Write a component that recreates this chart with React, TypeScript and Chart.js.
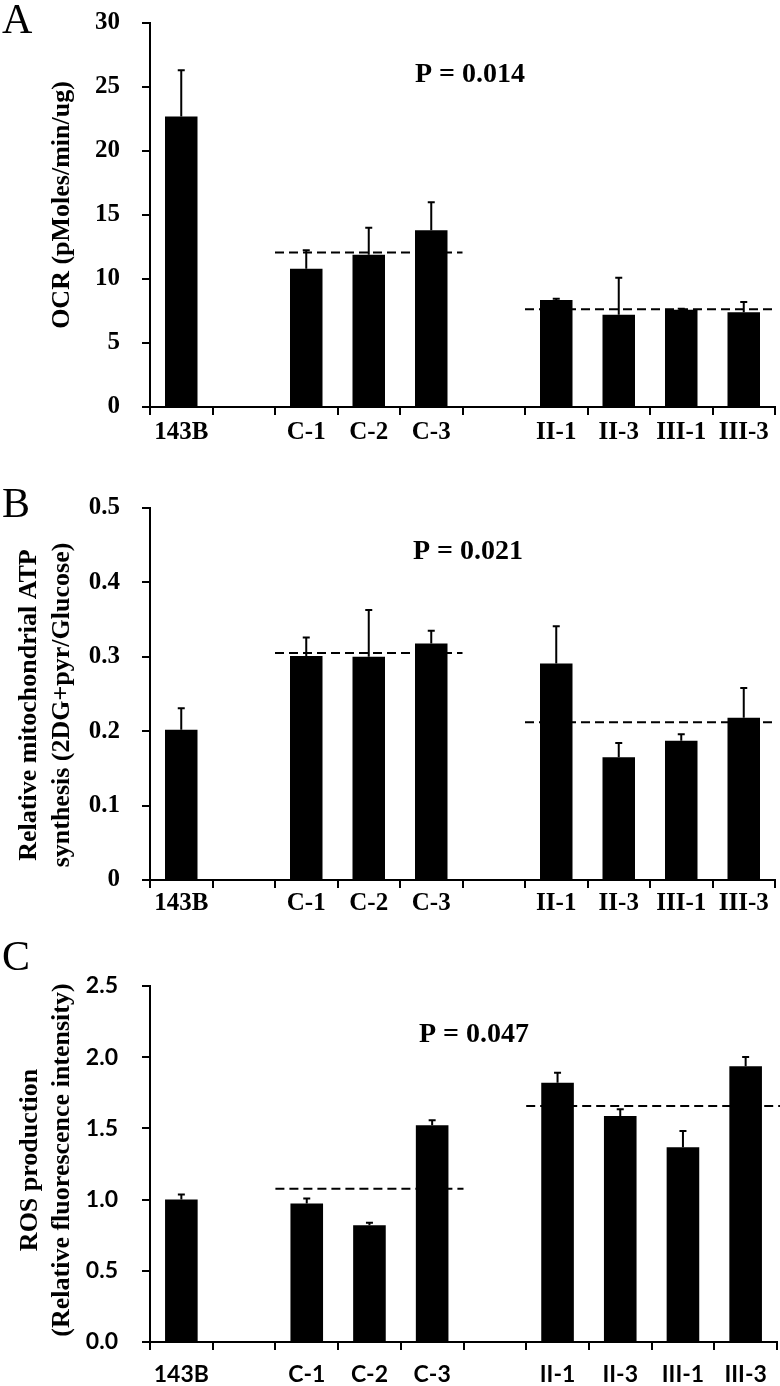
import React, { useEffect, useRef } from "react";
import { Chart, registerables } from "chart.js";
Chart.register(...registerables);

// ---------- data ----------
const categories = ["143B", "", "C-1", "C-2", "C-3", "", "II-1", "II-3", "III-1", "III-3"];

const ocrValues = [22.7, null, 10.8, 11.9, 13.8, null, 8.35, 7.2, 7.6, 7.4];
const ocrErrors = [3.6, null, 1.45, 2.1, 2.2, null, 0.1, 2.9, 0.08, 0.8];
const ocrGroupMeans = [12.08, 7.63];
const ocrTickLabels = ["0", "5", "10", "15", "20", "25", "30"];

const atpValues = [0.202, null, 0.301, 0.3, 0.318, null, 0.291, 0.165, 0.187, 0.218];
const atpErrors = [0.029, null, 0.025, 0.063, 0.017, null, 0.05, 0.019, 0.009, 0.04];
const atpGroupMeans = [0.305, 0.212];
const atpTickLabels = ["0", "0.1", "0.2", "0.3", "0.4", "0.5"];

const rosValues = [1.0, null, 0.972, 0.82, 1.522, null, 1.82, 1.587, 1.367, 1.936];
const rosErrors = [0.035, null, 0.035, 0.018, 0.035, null, 0.07, 0.048, 0.115, 0.065];
const rosGroupMeans = [1.077, 1.657];
const rosTickLabels = ["0.0", "0.5", "1.0", "1.5", "2.0", "2.5"];

// first / last category index of each averaged group
const groupRanges = [
  [2, 4],
  [6, 9],
];

const SERIF = "'Liberation Serif', 'Times New Roman', serif";
const SANS = "Lato, 'Open Sans', sans-serif";

type PanelSpec = {
  letter: string;
  top: number;
  height: number;
  letterBaseline: number;
  areaTop: number;
  xAxisHeight: number;
  rightPad: number;
  values: (number | null)[];
  errors: (number | null)[];
  means: number[];
  yMax: number;
  yStep: number;
  tickLabels: string[];
  tickFamily: string;
  tickSize: number;
  yPad: number;
  xPad: number;
  title: string[];
  titleX: number[];
  titleY: number;
  pText: string;
  pX: number;
  pY: number;
  meanRightExtra: number;
};

const panels: PanelSpec[] = [
  {
    letter: "A",
    top: -16,
    height: 476,
    letterBaseline: 49,
    areaTop: 39,
    xAxisHeight: 53,
    rightPad: 5,
    values: ocrValues,
    errors: ocrErrors,
    means: ocrGroupMeans,
    yMax: 30,
    yStep: 5,
    tickLabels: ocrTickLabels,
    tickFamily: SERIF,
    tickSize: 25,
    yPad: 22,
    xPad: 3,
    title: ["OCR (pMoles/min/ug)"],
    titleX: [62],
    titleY: 221,
    pText: "P = 0.014",
    pX: 470,
    pY: 91,
    meanRightExtra: 0,
  },
  {
    letter: "B",
    top: 460,
    height: 460,
    letterBaseline: 57,
    areaTop: 48,
    xAxisHeight: 40,
    rightPad: 5,
    values: atpValues,
    errors: atpErrors,
    means: atpGroupMeans,
    yMax: 0.5,
    yStep: 0.1,
    tickLabels: atpTickLabels,
    tickFamily: SERIF,
    tickSize: 25,
    yPad: 22,
    xPad: 1,
    title: ["Relative mitochondrial ATP", "synthesis (2DG+pyr/Glucose)"],
    titleX: [29, 62],
    titleY: 245,
    pText: "P = 0.021",
    pX: 468,
    pY: 92,
    meanRightExtra: 0,
  },
  {
    letter: "C",
    top: 920,
    height: 466,
    letterBaseline: 50,
    areaTop: 66,
    xAxisHeight: 44,
    rightPad: 3,
    values: rosValues,
    errors: rosErrors,
    means: rosGroupMeans,
    yMax: 2.5,
    yStep: 0.5,
    tickLabels: rosTickLabels,
    tickFamily: SANS,
    tickSize: 23,
    yPad: 24,
    xPad: 11,
    title: ["ROS production", "(Relative fluorescence intensity)"],
    titleX: [30, 62],
    titleY: 240,
    pText: "P = 0.047",
    pX: 474,
    pY: 115,
    meanRightExtra: 3,
  },
];

function makeOverlay(p: PanelSpec) {
  return {
    id: "overlay" + p.letter,
    afterDatasetsDraw(chart: any) {
      const ctx = chart.ctx as CanvasRenderingContext2D;
      const xs = chart.scales.x;
      const ys = chart.scales.y;
      const meta = chart.getDatasetMeta(0);
      ctx.save();
      // error bars (upper only)
      ctx.strokeStyle = "#000";
      ctx.lineWidth = 2;
      p.values.forEach((v, i) => {
        const e = p.errors[i];
        if (v == null || e == null) return;
        const x = meta.data[i].x;
        const y0 = ys.getPixelForValue(v);
        const y1 = ys.getPixelForValue(v + e);
        ctx.beginPath();
        ctx.moveTo(x, y0);
        ctx.lineTo(x, y1);
        ctx.moveTo(x - 3.5, y1);
        ctx.lineTo(x + 3.5, y1);
        ctx.stroke();
      });
      // group mean dashed lines
      const half = (xs.getPixelForValue(1) - xs.getPixelForValue(0)) / 2;
      ctx.setLineDash([9, 5]);
      ctx.lineWidth = 2;
      groupRanges.forEach((r, gi) => {
        const xa = xs.getPixelForValue(r[0]) - half;
        const xb = xs.getPixelForValue(r[1]) + half + (gi === 1 ? p.meanRightExtra : 0);
        const y = ys.getPixelForValue(p.means[gi]);
        ctx.beginPath();
        ctx.moveTo(xa, y);
        ctx.lineTo(xb, y);
        ctx.stroke();
      });
      ctx.setLineDash([]);
      // P value
      ctx.fillStyle = "#000";
      ctx.font = `bold 28px ${SERIF}`;
      ctx.textAlign = "center";
      ctx.textBaseline = "middle";
      ctx.fillText(p.pText, p.pX, p.pY);
      // panel letter
      ctx.font = `42px ${SERIF}`;
      ctx.textAlign = "left";
      ctx.textBaseline = "alphabetic";
      ctx.fillText(p.letter, 2, p.letterBaseline);
      // y axis title
      ctx.font = `bold 26px ${SERIF}`;
      ctx.textAlign = "center";
      ctx.textBaseline = "middle";
      p.title.forEach((t, li) => {
        ctx.save();
        ctx.translate(p.titleX[li], p.titleY);
        ctx.rotate(-Math.PI / 2);
        ctx.fillText(t, 0, 0);
        ctx.restore();
      });
      ctx.restore();
    },
  };
}

function Panel({ p }: { p: PanelSpec }) {
  const ref = useRef<HTMLCanvasElement | null>(null);
  useEffect(() => {
    if (!ref.current) return;
    const tickFont = { family: p.tickFamily, size: p.tickSize, weight: "bold" as const };
    const chart = new Chart(ref.current, {
      type: "bar",
      data: {
        labels: categories,
        datasets: [
          {
            data: p.values as any,
            backgroundColor: "#000",
            borderWidth: 0,
            categoryPercentage: 1,
            barPercentage: 0.52,
          },
        ],
      },
      options: {
        responsive: false,
        animation: false,
        events: [],
        layout: { padding: { top: p.areaTop, right: p.rightPad, left: 0, bottom: 0 } },
        plugins: { legend: { display: false }, tooltip: { enabled: false }, title: { display: false } },
        scales: {
          x: {
            afterFit: (s: any) => {
              s.height = p.xAxisHeight;
            },
            grid: {
              offset: true,
              drawOnChartArea: false,
              drawTicks: true,
              tickLength: 8,
              color: "#000",
              lineWidth: 2,
            },
            border: { display: true, color: "#000", width: 2 },
            ticks: {
              color: "#000",
              font: tickFont,
              padding: p.xPad,
              autoSkip: false,
              maxRotation: 0,
              minRotation: 0,
            },
          },
          y: {
            min: 0,
            max: p.yMax,
            afterFit: (s: any) => {
              s.width = 150;
            },
            grid: {
              drawOnChartArea: false,
              drawTicks: true,
              tickLength: 8,
              color: "#000",
              lineWidth: 2,
            },
            border: { display: true, color: "#000", width: 2 },
            ticks: {
              stepSize: p.yStep,
              color: "#000",
              font: tickFont,
              padding: p.yPad,
              callback: (_v: any, i: number) => p.tickLabels[i],
            },
          },
        },
      },
      plugins: [makeOverlay(p)],
    });
    return () => chart.destroy();
  }, [p]);
  return (
    <canvas
      ref={ref}
      width={780}
      height={p.height}
      style={{ position: "absolute", left: 0, top: p.top, width: 780, height: p.height }}
    />
  );
}

export default function App() {
  return (
    <div style={{ position: "absolute", left: 0, top: 0, width: 780, height: 1386, background: "#fff", overflow: "hidden" }}>
      {panels.map((p) => (
        <Panel key={p.letter} p={p} />
      ))}
    </div>
  );
}
